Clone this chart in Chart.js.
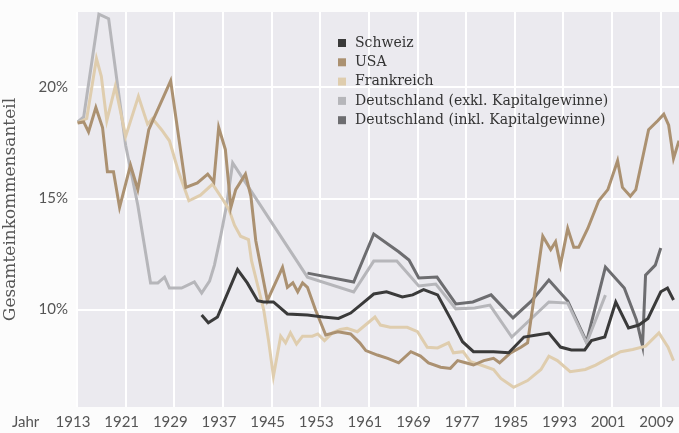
<!DOCTYPE html>
<html>
<head>
<meta charset="utf-8">
<script src="https://cdn.jsdelivr.net/npm/chart.js@4.4.1/dist/chart.umd.min.js"></script>
<style>
  html, body { margin: 0; padding: 0; background: #fcfcfc; }
  #wrap { width: 679px; height: 433px; }
</style>
</head>
<body>
<div id="wrap"><canvas id="chart" width="679" height="433"></canvas></div>
<script>
// [Jahr, Anteil in %]
const schweiz = [
  [1933.5, 9.75], [1934.6, 9.4], [1936.1, 9.66], [1939.4, 11.8], [1941, 11.2], [1942.7, 10.4],
  [1943.7, 10.34], [1945.3, 10.34], [1947.6, 9.8], [1950.9, 9.75], [1953.5, 9.66], [1956, 9.6],
  [1958, 9.84], [1959.6, 10.2], [1961.8, 10.7], [1963.9, 10.8], [1966.5, 10.57], [1968.2, 10.66],
  [1970, 10.9], [1972.3, 10.66], [1974.4, 9.6], [1976.4, 8.55], [1978.2, 8.1], [1981.5, 8.1],
  [1984, 8.05], [1986.5, 8.76], [1988.6, 8.85], [1990.6, 8.94], [1992.5, 8.31], [1994.3, 8.18],
  [1996.5, 8.18], [1997.6, 8.6], [1999.8, 8.76], [2001.6, 10.34], [2003.7, 9.17], [2005.4, 9.3],
  [2006.9, 9.6], [2009, 10.8], [2010.1, 10.97], [2011.1, 10.43]
];

const usa = [
  [1913.1, 18.4], [1914.1, 18.45], [1914.9, 18.0], [1916.1, 19.1], [1917.2, 18.2], [1918, 16.2],
  [1919, 16.2], [1920, 14.6], [1921.8, 16.5], [1923, 15.4], [1924.8, 18.1], [1928.4, 20.3],
  [1930.9, 15.5], [1932.8, 15.7], [1934.5, 16.1], [1935.5, 15.75], [1936.3, 18.2], [1937.4, 17.2],
  [1938.3, 14.6], [1939.1, 15.4], [1940.7, 16.1], [1941.6, 15.1], [1942.4, 13.1], [1944.3, 10.4],
  [1946.8, 11.9], [1947.6, 11.0], [1948.5, 11.2], [1949.3, 10.8], [1950.1, 11.2], [1950.9, 11.0],
  [1952.2, 10.0], [1953.9, 8.85], [1955.9, 9.0], [1958, 8.9], [1959.5, 8.5], [1960.5, 8.15],
  [1962.4, 7.95], [1964.1, 7.8], [1965.9, 7.6], [1967.9, 8.1], [1969.5, 7.9], [1970.8, 7.6],
  [1972.8, 7.4], [1974.4, 7.35], [1975.6, 7.7], [1976.9, 7.6], [1978.2, 7.5], [1979.9, 7.7],
  [1981.5, 7.8], [1982.5, 7.6], [1984.3, 8.05], [1986, 8.3], [1987.1, 8.5], [1989.6, 13.3],
  [1990.9, 12.7], [1991.7, 13.05], [1992.5, 12.0], [1993.7, 13.65], [1994.7, 12.8], [1995.5, 12.8],
  [1997, 13.65], [1998.8, 14.9], [2000.3, 15.4], [2001.9, 16.7], [2002.7, 15.5], [2004, 15.1],
  [2004.9, 15.4], [2007, 18.1], [2008.5, 18.5], [2009.5, 18.8], [2010.3, 18.3], [2011.1, 16.8],
  [2012, 17.6]
];

const frankreich = [
  [1913.1, 18.4], [1914.6, 18.6], [1916.2, 21.3], [1917, 20.5], [1917.9, 18.5], [1919.3, 20.05],
  [1921, 17.8], [1923.1, 19.6], [1924.6, 18.35], [1925.4, 18.6], [1926.9, 18.1], [1928.2, 17.6],
  [1929.7, 16.2], [1931.4, 14.9], [1933.3, 15.15], [1935.3, 15.65], [1937.1, 14.9], [1938, 14.5],
  [1938.9, 13.8], [1939.9, 13.3], [1941.2, 13.15], [1941.7, 12.2], [1942.7, 11.1], [1943.7, 10.0],
  [1944.5, 8.6], [1945.3, 7.0], [1946.5, 8.8], [1947.3, 8.5], [1948.1, 8.95], [1949.1, 8.45],
  [1950.1, 8.8], [1951.7, 8.8], [1952.6, 8.9], [1953.7, 8.6], [1955, 8.95], [1956.3, 9.1],
  [1957.4, 9.15], [1959.1, 9.0], [1962, 9.66], [1962.9, 9.3], [1964.5, 9.2], [1967.3, 9.2],
  [1969, 9.0], [1970.6, 8.3], [1972.3, 8.27], [1974.1, 8.5], [1974.9, 8.05], [1976.5, 8.1],
  [1977.7, 7.65], [1979.4, 7.5], [1981.5, 7.3], [1982.7, 6.9], [1984.8, 6.5], [1987.1, 6.8],
  [1989.3, 7.3], [1990.6, 7.9], [1992, 7.7], [1994.1, 7.2], [1996.6, 7.3], [1998.3, 7.5],
  [2000.3, 7.8], [2002.4, 8.1], [2004.4, 8.2], [2006.5, 8.35], [2008.7, 8.95], [2010.2, 8.3],
  [2011.1, 7.7]
];

const deutschlandExkl = [
  [1913.1, 18.45], [1914.1, 18.67], [1916.6, 23.3], [1918.2, 23.1], [1921, 17.4], [1923, 14.7],
  [1925.1, 11.2], [1926.3, 11.2], [1927.4, 11.46], [1928.2, 10.97], [1930.2, 10.97], [1932.3, 11.24],
  [1933.5, 10.74], [1934.8, 11.28], [1935.6, 12.0], [1936.6, 13.27], [1937.6, 14.7], [1938.6, 16.6],
  [1950.9, 11.46], [1958.5, 10.79], [1961.8, 12.18], [1965.6, 12.18], [1969.2, 11.06], [1972, 11.15],
  [1975.3, 10.03], [1978.4, 10.07], [1980.9, 10.2], [1984.5, 8.76], [1990.6, 10.34], [1993.7, 10.29],
  [1996.8, 8.49], [1999.9, 10.65]
];

const deutschlandInkl = [
  [1950.9, 11.64], [1958.5, 11.24], [1961.8, 13.4], [1965.9, 12.6], [1967.6, 12.23], [1969.2, 11.42],
  [1972.2, 11.46], [1975.3, 10.25], [1978.1, 10.34], [1981.1, 10.66], [1984.7, 9.62], [1987.7, 10.38],
  [1990.6, 11.33], [1993.7, 10.38], [1996.8, 8.54], [1999.9, 11.91], [2003, 10.97], [2005, 9.53],
  [2006, 8.36], [2006.5, 11.55], [2008.1, 12.0], [2009, 12.77]
];

const xTicks = [1913, 1921, 1929, 1937, 1945, 1953, 1961, 1969, 1977, 1985, 1993, 2001, 2009];
const yTicks = [10, 15, 20];

const SERIES = [
  { label: "Schweiz", data: schweiz, color: "#3a3a3a" },
  { label: "USA", data: usa, color: "#ab9171" },
  { label: "Frankreich", data: frankreich, color: "#dfcdae" },
  { label: "Deutschland (exkl. Kapitalgewinne)", data: deutschlandExkl, color: "#b6b6ba" },
  { label: "Deutschland (inkl. Kapitalgewinne)", data: deutschlandInkl, color: "#6d6d70" },
];

const plotBackground = {
  id: "plotBackground",
  beforeDraw(chart) {
    const { ctx, chartArea: a } = chart;
    ctx.save();
    ctx.fillStyle = "#ebeaef";
    ctx.fillRect(a.left, a.top, a.right - a.left, a.bottom - a.top);
    ctx.restore();
  },
};

const extras = {
  id: "extras",
  afterDatasetsDraw(chart) {
    const { ctx } = chart;
    ctx.save();
    // legend
    ctx.font = "14px 'DejaVu Serif'";
    ctx.textBaseline = "middle";
    SERIES.forEach((s, i) => {
      const y = 43 + i * 19.3;
      ctx.fillStyle = s.color;
      ctx.fillRect(338, y - 4, 8, 8);
      ctx.fillStyle = "#333";
      ctx.fillText(s.label, 355, y);
    });
    // "Jahr" before the year labels
    ctx.font = "15px Lato";
    ctx.fillStyle = "#555";
    ctx.fillText("Jahr", 12, 422);
    ctx.restore();
  },
};

new Chart(document.getElementById("chart"), {
  type: "line",
  data: {
    datasets: SERIES.map((s) => ({
      label: s.label,
      data: s.data.map(([x, y]) => ({ x, y })),
      borderColor: s.color,
      backgroundColor: s.color,
      borderWidth: 3,
      pointRadius: 0,
      tension: 0,
      fill: false,
    })),
  },
  options: {
    responsive: false,
    animation: false,
    devicePixelRatio: 1,
    layout: { padding: { top: 12, right: 0, left: 0, bottom: 0 } },
    plugins: { legend: { display: false }, tooltip: { enabled: false } },
    scales: {
      x: {
        type: "linear",
        min: 1913,
        max: 2012,
        afterFit(scale) {
          scale.height = 26;
          scale.paddingLeft = 0;
          scale.paddingRight = 0;
        },
        afterBuildTicks(scale) { scale.ticks = xTicks.map((v) => ({ value: v })); },
        ticks: {
          color: "#555",
          font: { family: "Lato", size: 15 },
          padding: 6,
          labelOffset: -4,
          maxRotation: 0,
          autoSkip: false,
          callback: (v) => String(v),
        },
        grid: { color: "#ffffff", lineWidth: 2, drawTicks: false },
        border: { display: false },
      },
      y: {
        min: 5.61,
        max: 23.4,
        afterFit(scale) {
          scale.width = 77;
          scale.paddingTop = 0;
          scale.paddingBottom = 0;
        },
        afterBuildTicks(scale) { scale.ticks = yTicks.map((v) => ({ value: v })); },
        ticks: {
          color: "#555",
          font: { family: "Lato", size: 15 },
          padding: 9,
          callback: (v) => v + "%",
        },
        title: {
          display: true,
          text: "Gesamteinkommensanteil",
          color: "#555",
          font: { family: "DejaVu Serif", size: 17 },
          padding: 0,
        },
        grid: { color: "#ffffff", lineWidth: 2, drawTicks: false },
        border: { display: false },
      },
    },
  },
  plugins: [plotBackground, extras],
});
</script>
</body>
</html>
